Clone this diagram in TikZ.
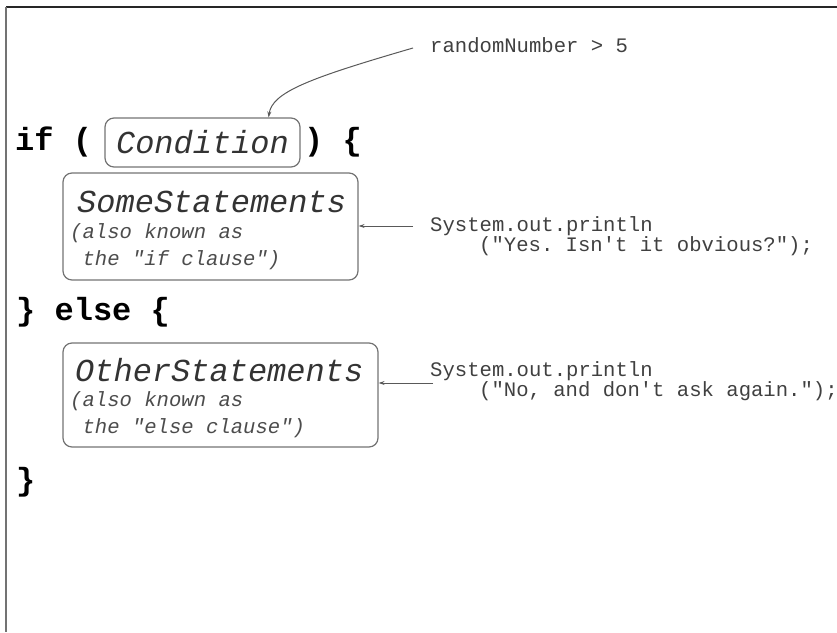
\documentclass[tikz,border=0pt]{standalone}
\usepackage{fontspec}
\setmonofont{Liberation Mono}
\usetikzlibrary{arrows.meta}

\tikzset{
  codetxt/.style={font=\ttfamily\bfseries\fontsize{32}{36}\selectfont, inner sep=0pt, anchor=west},
  stmtfont/.style={font=\ttfamily\itshape\fontsize{32}{36}\selectfont, text=black!80},
  stmttxt/.style={stmtfont, inner sep=0pt, anchor=west},
  notetxt/.style={font=\ttfamily\itshape\fontsize{20.6}{27}\selectfont, text=black!70, inner sep=0pt, anchor=west, align=left},
  javatxt/.style={font=\ttfamily\fontsize{20.6}{27}\selectfont, text=black!75, inner sep=0pt, anchor=west},
  roundbox/.style={draw=black!55, line width=1.2pt, rounded corners=9pt},
  ptr/.style={draw=black!65, line width=1pt, -{Stealth[length=6pt,width=4pt]}},
}

\begin{document}
\begin{tikzpicture}[x=1pt,y=-1pt]
    \useasboundingbox (0,0) rectangle (837,632);

    % frame (only top and left edge show)
    \draw[black!85, line width=1.5pt] (6,7) -- (837,7);
    \draw[black!55, line width=2pt] (6,7) -- (6,632);

    % if ( ... ) {
    \node[codetxt] (ifTxt) at (15,142) {if (};
    \node[roundbox, stmtfont, minimum width=195pt, minimum height=49pt] (condBox) at (202.5,142.5) {Condition};
    \node[codetxt] (ifClose) at (304,142) {) \{};

    % if clause
    \node[roundbox, minimum width=295pt, minimum height=107pt] (someBox) at (210.5,226.5) {};
    \node[stmttxt] (someTxt) at (77,202) {SomeStatements};
    \node[notetxt] (someNote) at (70,246.5) {(also known as\\\hspace*{0.6em}the "if clause")};

    % } else {
    \node[codetxt] (elseTxt) at (16,312) {\} else \{};

    % else clause
    \node[roundbox, minimum width=315pt, minimum height=104pt] (otherBox) at (220.5,395) {};
    \node[stmttxt] (otherTxt) at (75,370) {OtherStatements};
    \node[notetxt] (otherNote) at (70,414.5) {(also known as\\\hspace*{0.6em}the "else clause")};

    % closing brace
    \node[codetxt] (endTxt) at (16,482) {\}};

    % java examples
    \node[javatxt] (rndTxt) at (430,45) {randomNumber > 5};
    \node[javatxt] (sysA) at (430,226) {System.out.println};
    \node[javatxt] (yesTxt) at (479,246) {("Yes. Isn't it obvious?");};
    \node[javatxt] (sysB) at (430,371) {System.out.println};
    \node[javatxt] (noTxt) at (479,391) {("No, and don't ask again.");};

    % arrows
    \draw[ptr] ([xshift=-17pt,yshift=-3pt]rndTxt.west) .. controls (310,78) and (272,92) .. ([xshift=-32pt]condBox.north east);
    \draw[ptr] ([xshift=-17pt]sysA.west) -- (sysA.west -| someBox.east);
    \draw[ptr] ([xshift=3pt,yshift=-12pt]sysB.west) coordinate (fromB) -- (fromB -| otherBox.east);

\end{tikzpicture}
\end{document}
